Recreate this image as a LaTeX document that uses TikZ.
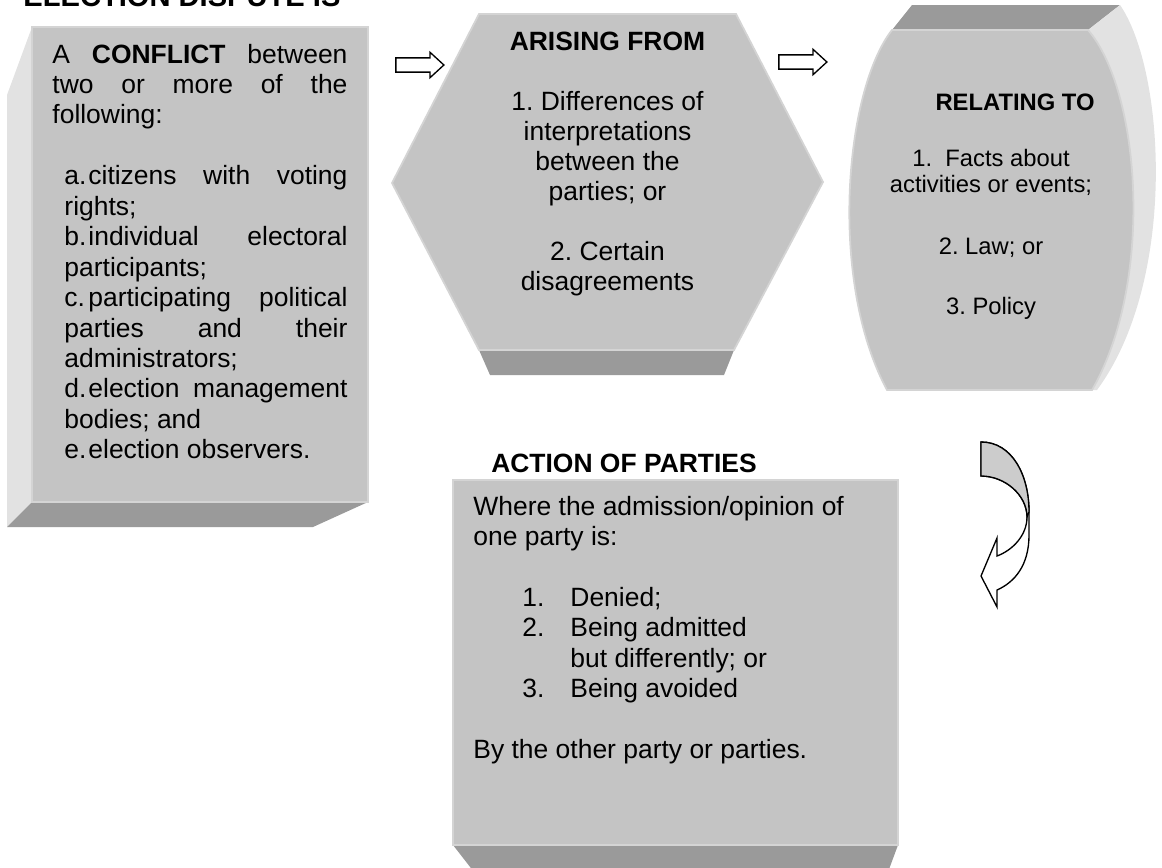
\documentclass[tikz,border=0pt]{standalone}
\usepackage{fontspec}
\setmainfont{Liberation Sans}
\usepackage{tikz}
\usetikzlibrary{shapes.arrows}
\usepackage{xcolor}
\definecolor{facegray}{RGB}{196,196,196}
\definecolor{darkbevel}{RGB}{154,154,154}
\definecolor{lightside}{RGB}{226,226,226}
\definecolor{rimgray}{RGB}{212,212,212}
\definecolor{foldgray}{RGB}{204,204,204}
\frenchspacing

\begin{document}
\begin{tikzpicture}[x=0.45pt, y=-0.45pt,
  frontface/.style={fill=facegray, draw=rimgray, line width=0.8pt},
  bevelface/.style={fill=darkbevel},
  sideface/.style={fill=lightside},
  bodytext/.style={inner sep=0pt, font=\fontsize{11.9}{13.7}\selectfont},
  smalltext/.style={inner sep=0pt, font=\fontsize{10.7}{11.7}\selectfont},
  blockarrow/.style={single arrow, draw=black, fill=white, line width=0.6pt,
    minimum height=21.6pt, inner xsep=0pt, inner ysep=2.9pt,
    single arrow head extend=2.5pt, single arrow tip angle=85}]
  \useasboundingbox (0,0) rectangle (1162,867);
  \clip (0,0) rectangle (1162,867);

  % Title
  \node[inner sep=0pt, anchor=base west, font=\fontsize{13.1}{15}\selectfont\bfseries]
    (title) at (23,7) {ELECTION DISPUTE IS};

  % Conflict box
  \path[sideface] (7,95) -- (32,27) -- (32,502) -- (7,527) -- cycle;
  \path[bevelface] (7,527) -- (32,502) -- (368,502) -- (313,527) -- cycle;
  \path[frontface] (32,27) rectangle (368,502);
  \node[bodytext, anchor=base west] (conflict) at (52,63) {\parbox[t]{132.75pt}{%
    \makebox[\linewidth][s]{A \textbf{CONFLICT} between}\\
    \makebox[\linewidth][s]{two or more of the}\\
    following:\\[13.7pt]
    \hspace*{5.4pt}\makebox[10.8pt][l]{a.}\makebox[116.55pt][s]{citizens with voting}\\
    \hspace*{5.4pt}rights;\\
    \hspace*{5.4pt}\makebox[10.8pt][l]{b.}\makebox[116.55pt][s]{individual electoral}\\
    \hspace*{5.4pt}participants;\\
    \hspace*{5.4pt}\makebox[10.8pt][l]{c.}\makebox[116.55pt][s]{participating political}\\
    \hspace*{5.4pt}\makebox[127.35pt][s]{parties and their}\\
    \hspace*{5.4pt}administrators;\\
    \hspace*{5.4pt}\makebox[10.8pt][l]{d.}\makebox[116.55pt][s]{election management}\\
    \hspace*{5.4pt}bodies; and\\
    \hspace*{5.4pt}\makebox[10.8pt][l]{e.}election observers.}};

  % Hexagon
  \path[bevelface] (479,350) -- (734,350) -- (724,375) -- (490,375) -- cycle;
  \path[frontface] (479,14) -- (736,14) -- (823,182) -- (734,350) -- (479,350)
    -- (392,183) -- cycle;
  \node[bodytext, anchor=base, font=\fontsize{11.9}{13.55}\selectfont]
    (arising) at (607.5,50) {\parbox[t]{110pt}{\centering
    \textbf{ARISING FROM}\\[13.55pt]
    1. Differences of\\
    interpretations\\
    between the\\
    parties; or\\[13.55pt]
    2. Certain\\
    disagreements}};

  % Can
  \path[bevelface] (892,30) -- (912,5) -- (1120,5) -- (1088,30) -- cycle;
  \path[sideface] (1088,30) -- (1120,5) .. controls (1165,70) and (1178,280) .. (1097,390)
    -- (1092,390) .. controls (1155,280) and (1140,90) .. (1088,30) -- cycle;
  \path[frontface] (892,30) -- (1088,30) .. controls (1140,90) and (1155,280) .. (1092,390)
    -- (887,390) .. controls (828,280) and (845,90) .. (892,30) -- cycle;
  \node[smalltext, anchor=base] (relating) at (991,110) {\parbox[t]{110pt}{\centering
    \hspace*{21.6pt}\textbf{RELATING TO}\\[13.9pt]
    1.\ \ Facts about\\
    activities or events;\\[16.2pt]
    2. Law; or\\[15.3pt]
    3. Policy}};

  % Action box
  \node[inner sep=0pt, anchor=base, font=\fontsize{11.9}{13.7}\selectfont\bfseries]
    (actionhead) at (624,472) {ACTION OF PARTIES};
  \path[bevelface] (453,845) -- (898,845) -- (888,872) -- (474,872) -- cycle;
  \path[frontface] (453,480) rectangle (898,845);
  \node[bodytext, anchor=base west] (action) at (473,515) {\parbox[t]{190pt}{%
    Where the admission/opinion of\\
    one party is:\\[13.75pt]
    \hspace*{22.05pt}\makebox[21.6pt][l]{1.}Denied;\\
    \hspace*{22.05pt}\makebox[21.6pt][l]{2.}Being admitted\\
    \hspace*{43.65pt}but differently; or\\
    \hspace*{22.05pt}\makebox[21.6pt][l]{3.}Being avoided\\[13.75pt]
    By the other party or parties.}};

  % Block arrows
  \node[blockarrow] (arrA) at (416,65) {};
  \node[blockarrow] (arrB) at (799,62) {};

  % U-turn arrow
  \filldraw[fill=white, draw=black, line width=0.6pt, line join=miter]
    (981,442) .. controls (1012,442) and (1029,475) .. (1029,512)
    -- (1029,535) .. controls (1029,565) and (1015,582) .. (997,590)
    -- (997,607) -- (981,576) -- (997,538) -- (997,556)
    .. controls (1013,550) and (1027,535) .. (1027,517)
    .. controls (1027,495) and (1005,476) .. (981,476) -- cycle;
  \filldraw[fill=foldgray, draw=black, line width=0.6pt]
    (981,442) .. controls (1012,442) and (1029,475) .. (1029,512)
    -- (1027,517) .. controls (1027,495) and (1005,476) .. (981,476) -- cycle;
\end{tikzpicture}
\end{document}
